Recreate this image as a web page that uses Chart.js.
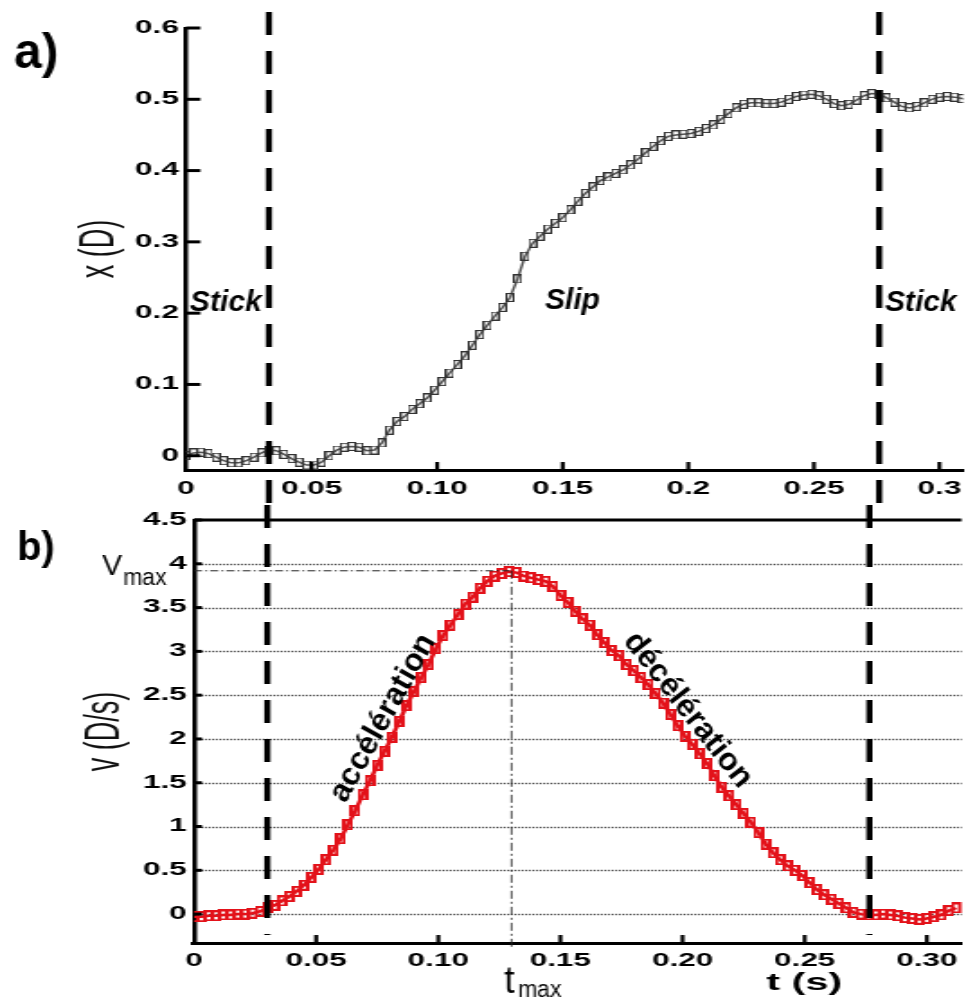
<!DOCTYPE html>
<html>
<head>
<meta charset="utf-8">
<script src="https://cdn.jsdelivr.net/npm/chart.js@4.4.0/dist/chart.umd.min.js"></script>
<style>
  body { margin: 0; background: #fff; overflow: hidden; }
  /* the original figure is stretched horizontally, so each panel is drawn narrow and widened */
  .painel { position: absolute; left: 0; top: 0; width: 541px; height: 997px; transform: scaleX(1.79888); transform-origin: 0 0; }
</style>
</head>
<body>
<div class="painel"><canvas id="graficoA" width="541" height="997"></canvas></div>
<div class="painel"><canvas id="graficoB" width="541" height="997"></canvas></div>
<script>
// dados
const tempo = [0, 0.003, 0.006, 0.009, 0.012, 0.015, 0.018, 0.021, 0.024, 0.027,
  0.03, 0.033, 0.036, 0.039, 0.042, 0.045, 0.048, 0.051, 0.054, 0.057,
  0.06, 0.063, 0.066, 0.069, 0.072, 0.075, 0.078, 0.081, 0.084, 0.087,
  0.09, 0.093, 0.096, 0.099, 0.102, 0.105, 0.108, 0.111, 0.114, 0.117,
  0.12, 0.123, 0.126, 0.129, 0.132, 0.135, 0.138, 0.141, 0.144, 0.147,
  0.15, 0.153, 0.156, 0.159, 0.162, 0.165, 0.168, 0.171, 0.174, 0.177,
  0.18, 0.183, 0.186, 0.189, 0.192, 0.195, 0.198, 0.201, 0.204, 0.207,
  0.21, 0.213, 0.216, 0.219, 0.222, 0.225, 0.228, 0.231, 0.234, 0.237,
  0.24, 0.243, 0.246, 0.249, 0.252, 0.255, 0.258, 0.261, 0.264, 0.267,
  0.27, 0.273, 0.276, 0.279, 0.282, 0.285, 0.288, 0.291, 0.294, 0.297,
  0.3, 0.303, 0.306, 0.309, 0.312];

const posicao = [0.000, 0.004, 0.005, 0.003, -0.002, -0.007, -0.010, -0.010, -0.007, -0.002,
  0.004, 0.008, 0.007, 0.002, -0.004, -0.009, -0.013, -0.013, -0.009, 0.000,
  0.008, 0.012, 0.013, 0.012, 0.007, 0.008, 0.018, 0.036, 0.048, 0.055,
  0.065, 0.073, 0.081, 0.092, 0.104, 0.116, 0.128, 0.140, 0.155, 0.170,
  0.183, 0.196, 0.208, 0.222, 0.248, 0.280, 0.298, 0.308, 0.318, 0.326,
  0.334, 0.345, 0.357, 0.368, 0.377, 0.386, 0.391, 0.396, 0.401, 0.408,
  0.416, 0.425, 0.434, 0.442, 0.448, 0.450, 0.451, 0.452, 0.455, 0.459,
  0.464, 0.472, 0.480, 0.488, 0.493, 0.495, 0.495, 0.494, 0.494, 0.496,
  0.500, 0.504, 0.506, 0.507, 0.505, 0.500, 0.494, 0.491, 0.493, 0.499,
  0.505, 0.508, 0.507, 0.502, 0.496, 0.490, 0.488, 0.490, 0.495, 0.500,
  0.503, 0.504, 0.503, 0.501, 0.499];

const velocidade = [-0.03, -0.03, -0.02, -0.02, -0.01, -0.01, 0.00, 0.00, 0.01, 0.03,
  0.07, 0.10, 0.15, 0.20, 0.26, 0.33, 0.42, 0.51, 0.62, 0.73,
  0.86, 1.02, 1.18, 1.36, 1.52, 1.70, 1.86, 2.02, 2.20, 2.38,
  2.54, 2.70, 2.85, 3.03, 3.18, 3.30, 3.42, 3.54, 3.62, 3.72,
  3.80, 3.86, 3.89, 3.91, 3.90, 3.86, 3.84, 3.82, 3.80, 3.74,
  3.64, 3.56, 3.46, 3.37, 3.30, 3.19, 3.10, 3.01, 2.95, 2.85,
  2.78, 2.70, 2.62, 2.52, 2.41, 2.28, 2.15, 2.03, 1.94, 1.83,
  1.72, 1.58, 1.45, 1.35, 1.25, 1.15, 1.05, 0.93, 0.80, 0.70,
  0.62, 0.55, 0.50, 0.44, 0.36, 0.28, 0.22, 0.17, 0.12, 0.07,
  0.02, 0.00, -0.01, -0.01, 0.00, -0.01, -0.02, -0.04, -0.05, -0.06,
  -0.05, -0.03, -0.01, 0.04, 0.07];

const ticksXa = ['0', '0.05', '0.10', '0.15', '0.2', '0.25', '0.3'];
const ticksXb = ['0', '0.05', '0.10', '0.15', '0.20', '0.25', '0.30'];
const ticksYa = ['0', '0.1', '0.2', '0.3', '0.4', '0.5', '0.6'];
const ticksYb = ['0', '0.5', '1', '1.5', '2', '2.5', '3', '3.5', '4', '4.5'];

const stickA = [0.033, 0.276];   // limites stick/slip no painel a
const stickB = [0.03, 0.2765];   // limites stick/slip no painel b
const tMax = 0.13;
const vMax = 3.92;

const S = 966 / 537;  // esticamento horizontal
const fonte = '"Liberation Sans", Arial, sans-serif';

// marcador quadrado vazado (estreito porque o canvas e esticado)
function marcador(cor, w, h, lw) {
  const c = document.createElement('canvas');
  c.width = w; c.height = h;
  const g = c.getContext('2d');
  g.strokeStyle = cor;
  g.lineWidth = lw;
  g.strokeRect(lw / 2, lw / 2, w - lw, h - lw);
  return c;
}

function linha(ctx, x1, y1, x2, y2) {
  ctx.beginPath(); ctx.moveTo(x1, y1); ctx.lineTo(x2, y2); ctx.stroke();
}

function eixoX(max, labels, pad) {
  return {
    type: 'linear', min: 0, max: max,
    afterFit: s => { s.height = 30; s.paddingLeft = 0; s.paddingRight = 0; },
    grid: { display: false, drawTicks: false },
    border: { color: '#000', width: 3 },
    ticks: { stepSize: 0.05, includeBounds: false, autoSkip: false, maxRotation: 0, padding: pad,
      color: '#000', font: { family: fonte, weight: 'bold', size: 17.5 },
      callback: (v, i) => labels[i] }
  };
}

function eixoY(min, max, step, largura, labels, titulo, tpad) {
  return {
    min: min, max: max,
    afterFit: s => { s.width = largura; s.paddingTop = 0; s.paddingBottom = 0; },
    grid: { display: false, drawTicks: false },
    border: { color: '#000', width: 2.5 },
    ticks: { stepSize: step, includeBounds: false, autoSkip: false, padding: 4,
      color: '#000', font: { family: fonte, weight: 'bold', size: 17.5 },
      callback: (v, i) => labels[i] },
    title: { display: true, text: titulo, color: '#111', font: { family: fonte, size: 27 }, padding: { top: tpad } }
  };
}

// painel a
const desenhoA = {
  id: 'desenhoA',
  afterDraw(chart) {
    const { ctx, chartArea: a, scales: { x, y } } = chart;
    ctx.save();
    ctx.strokeStyle = '#000';
    ctx.lineWidth = 2.2;
    x.ticks.forEach(tk => {
      if (tk.value === 0) return;
      const px = x.getPixelForValue(tk.value);
      linha(ctx, px, a.bottom, px, a.bottom - 8);
    });
    ctx.lineWidth = 3;
    y.ticks.forEach(tk => {
      const py = y.getPixelForValue(tk.value);
      linha(ctx, a.left, py, a.left + 8, py);
    });
    ctx.lineWidth = 3.4;
    ctx.setLineDash([23, 16]);
    stickA.forEach(t => {
      const px = x.getPixelForValue(t);
      linha(ctx, px, 12, px, 505);
    });
    ctx.setLineDash([]);
    // textos sem esticamento
    ctx.scale(1 / S, 1);
    ctx.fillStyle = '#000';
    ctx.font = 'bold 50px ' + fonte;
    ctx.fillText('a)', 14, 68);
    ctx.font = 'italic bold 30px ' + fonte;
    ctx.fillText('Stick', 190, 311);
    ctx.fillText('Slip', 545, 309);
    ctx.fillText('Stick', 885, 311);
    ctx.restore();
  }
};

new Chart(document.getElementById('graficoA'), {
  type: 'scatter',
  data: {
    datasets: [{
      data: tempo.map((t, i) => ({ x: t, y: posicao[i] })),
      showLine: true,
      borderWidth: 1.5,
      pointStyle: marcador('#333', 5, 9, 1.1),
      pointRadius: 3,
      borderColor: '#555'
    }]
  },
  options: {
    animation: false,
    responsive: false,
    layout: { padding: { top: 28, bottom: 497, left: 0, right: 0 } },
    plugins: { legend: { display: false }, tooltip: { enabled: false } },
    scales: {
      x: eixoX(0.3095, ticksXa, 9),
      y: eixoY(-0.02, 0.6, 0.1, 103.4, ticksYa, 'x (D)', 39)
    }
  },
  plugins: [desenhoA]
});

// painel b
const desenhoB = {
  id: 'desenhoB',
  beforeDatasetsDraw(chart) {
    const { ctx, chartArea: a, scales: { y } } = chart;
    ctx.save();
    ctx.strokeStyle = '#333';
    ctx.lineWidth = 1.4;
    ctx.setLineDash([1, 1]);
    y.ticks.forEach(tk => {
      if (tk.value >= 4.5) return;
      const py = Math.round(y.getPixelForValue(tk.value)) + 0.5;
      linha(ctx, a.left, py, a.right, py);
    });
    ctx.restore();
  },
  afterDraw(chart) {
    const { ctx, chartArea: a, scales: { x, y } } = chart;
    ctx.save();
    ctx.strokeStyle = '#000';
    ctx.lineWidth = 3;
    linha(ctx, a.left, a.top, a.right, a.top);
    ctx.lineWidth = 2.2;
    x.ticks.forEach(tk => {
      if (tk.value === 0) return;
      const px = x.getPixelForValue(tk.value);
      linha(ctx, px, a.bottom, px, a.bottom - 8);
    });
    ctx.lineWidth = 3;
    y.ticks.forEach(tk => {
      const py = y.getPixelForValue(tk.value);
      linha(ctx, a.left, py, a.left + 4.5, py);
    });
    ctx.lineWidth = 3.4;
    ctx.setLineDash([23, 16]);
    stickB.forEach(t => {
      const px = x.getPixelForValue(t);
      linha(ctx, px, 505, px, 935);
    });
    // t_max e v_max
    const px = x.getPixelForValue(tMax);
    const py = y.getPixelForValue(vMax);
    ctx.strokeStyle = '#222';
    ctx.lineWidth = 1;
    ctx.setLineDash([4.5, 1.7, 1.1, 1.7]);
    linha(ctx, a.left, py, px, py);
    ctx.lineWidth = 0.8;
    ctx.setLineDash([8, 3, 2, 3]);
    linha(ctx, px, py, px, a.bottom + 4);
    ctx.setLineDash([]);
    // titulo do eixo x
    ctx.fillStyle = '#000';
    ctx.font = 'bold 23px ' + fonte;
    ctx.textAlign = 'center';
    ctx.fillText('t (s)', 447, 990);
    // textos sem esticamento
    ctx.scale(1 / S, 1);
    ctx.textAlign = 'left';
    ctx.font = 'bold 40px ' + fonte;
    ctx.fillText('b)', 17, 560);
    ctx.font = '30px ' + fonte;
    ctx.fillText('V', 102, 575);
    ctx.font = '23px ' + fonte;
    ctx.fillText('max', 123, 585);
    ctx.font = '38px ' + fonte;
    ctx.fillText('t', 504, 993);
    ctx.font = '23px ' + fonte;
    ctx.fillText('max', 518, 997);
    ctx.font = 'bold 32px ' + fonte;
    ctx.textAlign = 'center';
    ctx.textBaseline = 'middle';
    ctx.save();
    ctx.translate(383, 718);
    ctx.rotate(-61 * Math.PI / 180);
    ctx.fillText('accélération', 0, 0);
    ctx.restore();
    ctx.save();
    ctx.translate(688, 710);
    ctx.rotate(52 * Math.PI / 180);
    ctx.fillText('décélération', 0, 0);
    ctx.restore();
    ctx.restore();
  }
};

new Chart(document.getElementById('graficoB'), {
  type: 'scatter',
  data: {
    datasets: [{
      data: tempo.map((t, i) => ({ x: t, y: velocidade[i] })),
      showLine: true,
      borderWidth: 2.5,
      pointStyle: marcador('#e3121a', 6, 11, 2),
      pointRadius: 3,
      borderColor: '#e3121a'
    }]
  },
  options: {
    animation: false,
    responsive: false,
    layout: { padding: { top: 520, bottom: 24, left: 0, right: 0 } },
    plugins: { legend: { display: false }, tooltip: { enabled: false } },
    scales: {
      x: eixoX(0.3142, ticksXb, 8),
      y: eixoY(-0.33, 4.5, 0.5, 107.85, ticksYb, 'v (D/s)', 42)
    }
  },
  plugins: [desenhoB]
});
</script>
</body>
</html>
